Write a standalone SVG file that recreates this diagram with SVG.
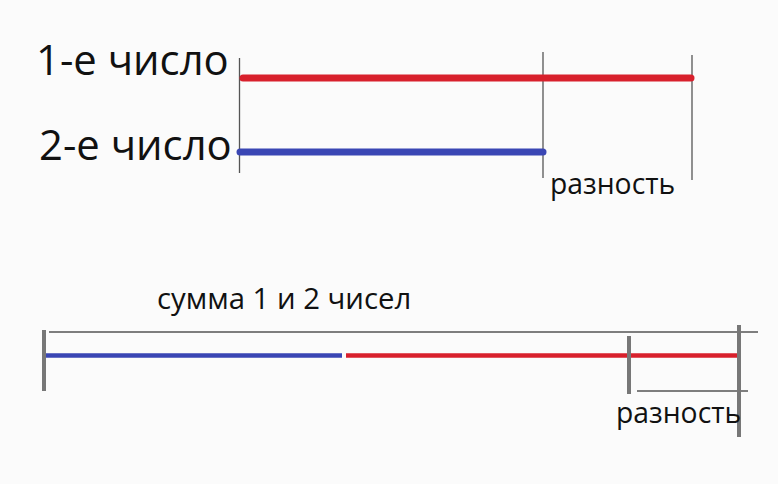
<svg xmlns="http://www.w3.org/2000/svg" width="778" height="484" viewBox="0 0 778 484">
<style>
.big{font-family:"Open Sans","Noto Sans",sans-serif;font-size:41.8px;fill:#111}
.small{font-family:"Open Sans","Noto Sans",sans-serif;font-size:28.3px;fill:#111}
.sum{font-family:"Open Sans","Noto Sans",sans-serif;font-size:29.3px;fill:#111}
.red{stroke:#d8202c;fill:none}
.blue{stroke:#3a46b4;fill:none}
.thin{stroke:#555;stroke-width:1.3;fill:none}
.tick{stroke:#777;stroke-width:4;fill:none}
</style>
<rect width="778" height="484" fill="#fbfbfb"/>
<g id="label1"><text class="big" x="36" y="75">1-е число</text></g>
<g id="label2"><text class="big" x="39" y="160">2-е число</text></g>
<g id="top-ticks">
<line class="thin" x1="239.5" y1="58" x2="239.5" y2="173"/>
<line class="thin" x1="543" y1="52" x2="543" y2="178"/>
<line class="thin" x1="692" y1="55" x2="692" y2="180"/>
</g>
<g id="top-bars">
<line class="red" x1="243" y1="78" x2="691" y2="78" stroke-width="7" stroke-linecap="round"/>
<line class="blue" x1="240" y1="152" x2="543" y2="152" stroke-width="7" stroke-linecap="round"/>
</g>
<g id="diff1"><text class="small" x="550" y="194">разность</text></g>
<g id="sum-label"><text class="sum" x="157" y="309">сумма 1 и 2 чисел</text></g>
<g id="bottom">
<line class="thin" x1="49" y1="332" x2="758" y2="332"/>
<line class="blue" x1="46" y1="355.5" x2="342" y2="355.5" stroke-width="4.5"/>
<line class="red" x1="346" y1="355.5" x2="737" y2="355.5" stroke-width="4.5"/>
<line class="tick" x1="44" y1="330" x2="44" y2="391"/>
<line class="tick" x1="629" y1="336" x2="629" y2="394"/>
<line class="thin" x1="637" y1="391" x2="748" y2="391"/>
<line class="tick" x1="739" y1="325" x2="739" y2="437"/>
</g>
<g id="diff2"><text class="small" x="616" y="423">разность</text></g>
</svg>
